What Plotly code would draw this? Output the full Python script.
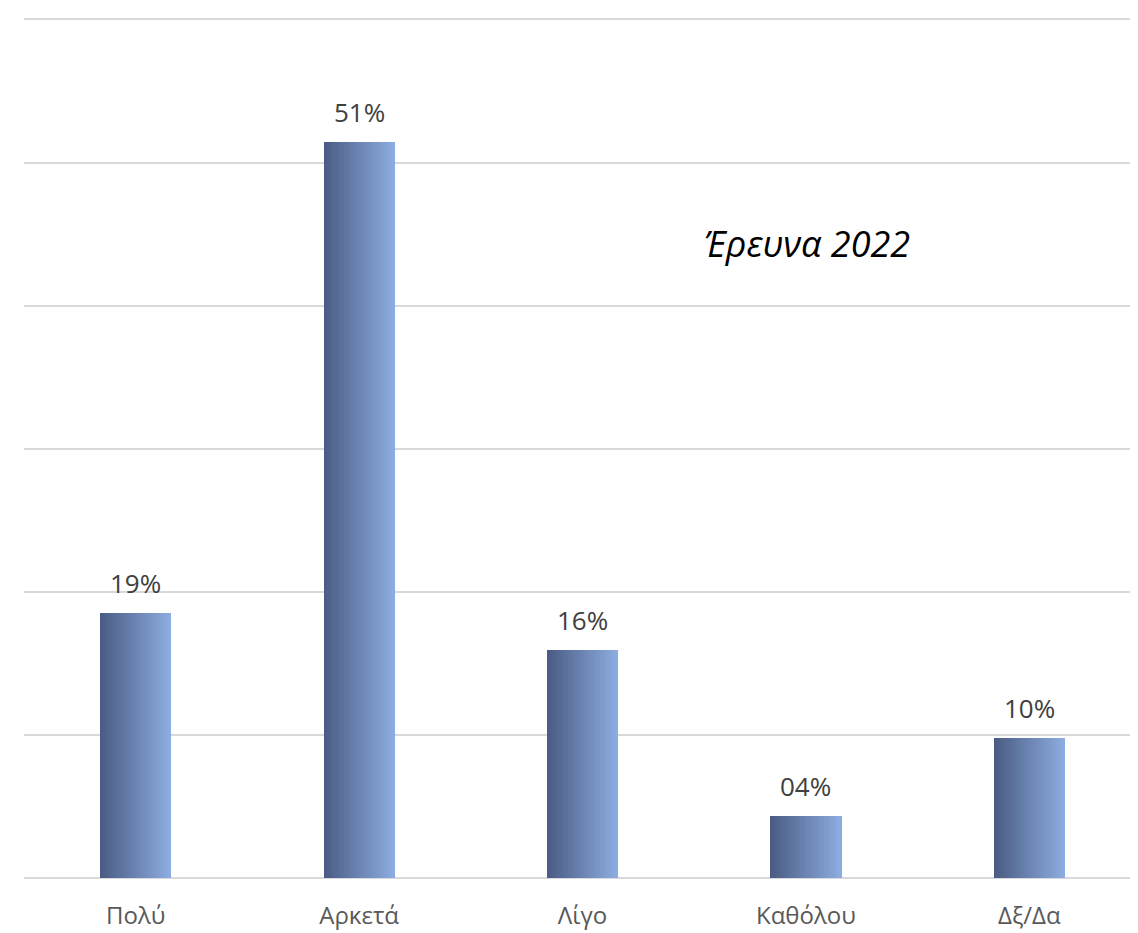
import plotly.graph_objects as go

categories = ["Πολύ", "Αρκετά", "Λίγο", "Καθόλου", "Δξ/Δα"]
values = [18.5, 51.4, 15.9, 4.3, 9.8]
value_labels = ["19%", "51%", "16%", "04%", "10%"]
title_text = "Έρευνα 2022"

BAR_W = 0.318
N = 24
c0 = (0x4B, 0x5D, 0x84)
c1 = (0x8C, 0xAB, 0xE0)
FONT = "Open Sans, Noto Sans, sans-serif"

fig = go.Figure()
for i in range(N):
    t = i / (N - 1)
    col = "rgb(%d,%d,%d)" % tuple(round(a + (b - a) * t) for a, b in zip(c0, c1))
    w = BAR_W / N
    fig.add_trace(go.Bar(
        x=categories, y=values, width=w * 1.05, offset=-BAR_W / 2 + i * w,
        marker=dict(color=col, line=dict(width=0)), hoverinfo="skip", showlegend=False,
    ))

for cat, val, lab in zip(categories, values, value_labels):
    fig.add_annotation(
        x=cat, y=val, text=lab, showarrow=False, xanchor="center", yanchor="bottom",
        yshift=10, font=dict(family=FONT, size=26, color="#404040"),
    )

fig.add_annotation(
    text="<i>" + title_text + "</i>", xref="paper", yref="paper",
    x=0.701, y=0.738, xanchor="center", yanchor="middle", showarrow=False,
    font=dict(family=FONT, size=36, color="#000000"),
)

fig.update_layout(
    width=1138, height=933, barmode="overlay",
    margin=dict(l=16, r=5, t=10, b=63),
    plot_bgcolor="white", paper_bgcolor="white",
    bargap=0,
)
fig.update_xaxes(
    showgrid=False, zeroline=False, showline=False, ticks="",
    tickfont=dict(family=FONT, size=24, color="#595959"),
    ticklabelstandoff=21,
)
fig.update_yaxes(
    range=[0, 60.1], tickvals=[0, 10, 20, 30, 40, 50, 60], showgrid=True,
    gridcolor="#d9d9d9", gridwidth=2,
    showticklabels=False, zeroline=True, zerolinecolor="#d9d9d9", zerolinewidth=2,
    showline=False,
)

fig.write_html("out.html")
